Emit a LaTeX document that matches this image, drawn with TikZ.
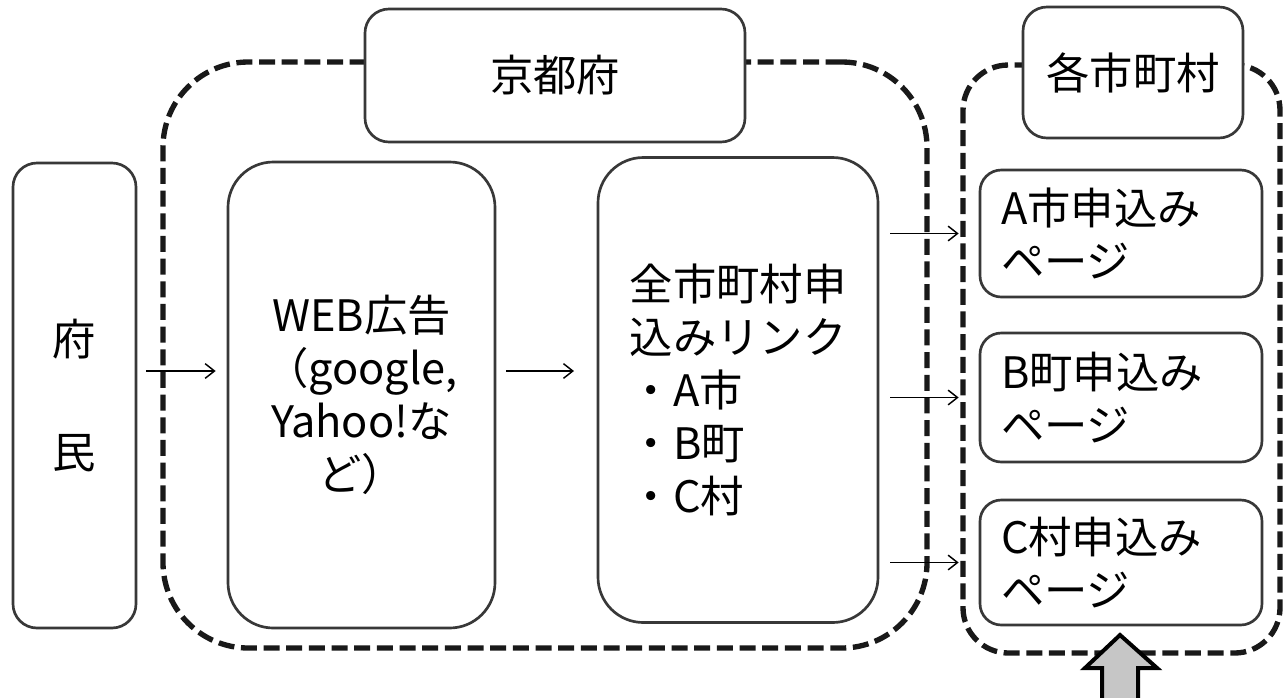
\documentclass[tikz,border=0pt]{standalone}
\usepackage{fontspec}
\setmainfont{Noto Sans CJK JP}
\usetikzlibrary{arrows.meta}
\begin{document}
\begin{tikzpicture}[x=0.75pt,y=-0.75pt,
  txt/.style={font=\fontsize{32.5}{39.75}\selectfont},
  box/.style={draw=black!78, line width=2pt, fill=white, rounded corners=#1, inner sep=0pt, txt},
  box/.default=16pt,
  grp/.style={draw=black!90, line width=4pt, dash pattern=on 12pt off 5pt, rounded corners=#1, inner sep=0pt},
  arr/.style={line width=1.1pt, -{Straight Barb[length=7pt,width=11pt,line width=1.1pt]}}
]
\useasboundingbox (0,0) rectangle (1288,697);
\fill[white] (0,0) rectangle (1288,697);

% groups
\node[grp=64pt, minimum width=764*0.75pt, minimum height=586*0.75pt] (kgrp) at (545,355) {};
\node[grp=34pt, minimum width=317*0.75pt, minimum height=588*0.75pt] (mgrp) at (1121.5,359) {};

% boxes
\node[box=18pt, minimum width=380*0.75pt, minimum height=133*0.75pt] (kyoto) at (555,75.5) {京都府};
\node[box=18pt, minimum width=220*0.75pt, minimum height=131*0.75pt] (kaku) at (1133,72.5) {各市町村};

\node[box=18pt, minimum width=123*0.75pt, minimum height=465*0.75pt, align=center] (fumin) at (74.5,395.5) {府\\[45pt]民};
\node[box=34pt, minimum width=267*0.75pt, minimum height=466*0.75pt, align=center] (web) at (361.5,395) {WEB広告\\（google,\\Yahoo!な\\ど）};
\node[box=34pt, minimum width=280*0.75pt, minimum height=465*0.75pt, align=left] (quan) at (738,390) {全市町村申\\込みリンク\\・A市\\・B町\\・C村};

\node[box=16pt, minimum width=282*0.75pt, minimum height=127*0.75pt, text width=240*0.75pt, align=left] (a) at (1121,233.5) {A市申込み\\ページ};
\node[box=16pt, minimum width=282*0.75pt, minimum height=129*0.75pt, text width=240*0.75pt, align=left] (b) at (1121,397.5) {B町申込み\\ページ};
\node[box=16pt, minimum width=282*0.75pt, minimum height=125*0.75pt, text width=240*0.75pt, align=left] (c) at (1121,562.5) {C村申込み\\ページ};

% connectors
\coordinate (r1) at (0,371);
\draw[arr, shorten <=6.75pt, shorten >=8.25pt] (fumin.east |- r1) -- (web.west |- r1);
\draw[arr, shorten <=7.5pt, shorten >=17pt] (web.east |- r1) -- (quan.west |- r1);
\draw[arr, shorten <=8.25pt, shorten >=15pt] (quan.east |- a.west) -- (a.west);
\draw[arr, shorten <=8.25pt, shorten >=15pt] (quan.east |- b.west) -- (b.west);
\draw[arr, shorten <=8.25pt, shorten >=15pt] (quan.east |- c.west) -- (c.west);

% block arrow
\draw[line width=3pt, draw=black, fill=gray!45, line join=miter]
  (1120,635) -- (1157,668) -- (1138,668) -- (1138,705) -- (1102,705) -- (1102,668) -- (1085,668) -- cycle;
\end{tikzpicture}
\end{document}
